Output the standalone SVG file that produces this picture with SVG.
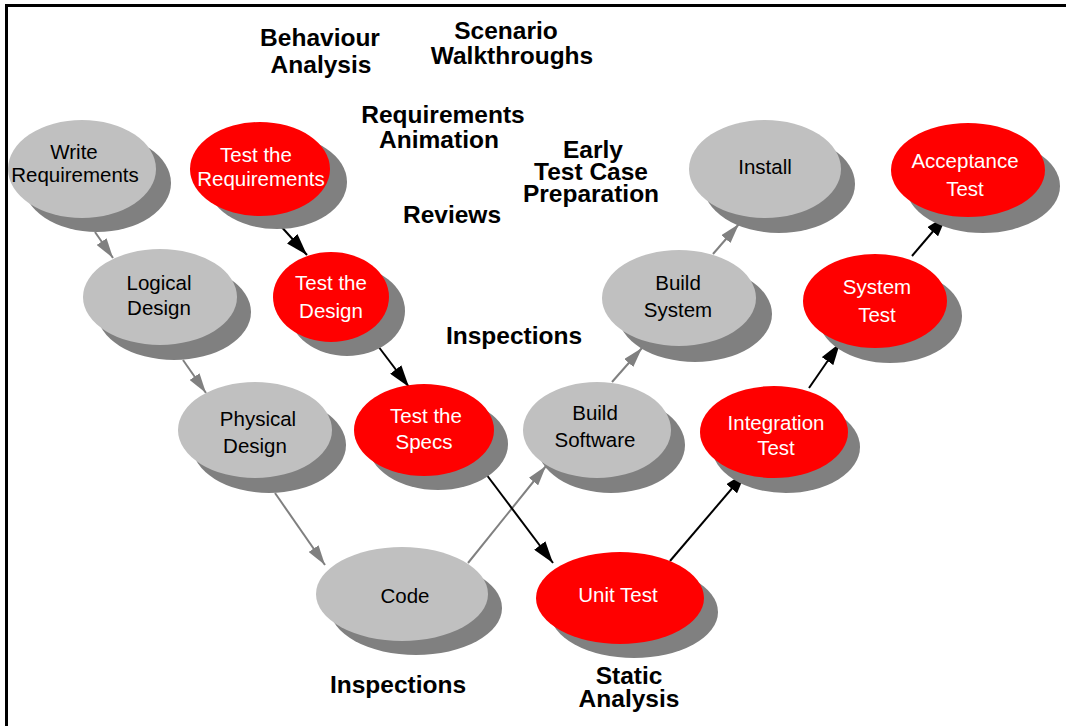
<svg xmlns="http://www.w3.org/2000/svg" width="1066" height="726" viewBox="0 0 1066 726">
  <style>
    .shadow { fill: #808080; }
    .grey { fill: #c0c0c0; }
    .red { fill: #ff0000; }
    .nt { font-family: "Liberation Sans", Arial, sans-serif; font-size: 20.5px; text-anchor: middle; }
    .nt-dark { fill: #000000; }
    .nt-light { fill: #ffffff; }
    .lbl { font-family: "Liberation Sans", Arial, sans-serif; font-size: 24.5px; font-weight: bold; text-anchor: middle; fill: #000000; }
    .flow-grey { stroke: #808080; stroke-width: 2; fill: none; marker-end: url(#head-grey); }
    .flow-black { stroke: #000000; stroke-width: 2; fill: none; marker-end: url(#head-black); }
  </style>
  <defs>
    <marker id="head-grey" markerUnits="userSpaceOnUse" markerWidth="20" markerHeight="12" refX="20" refY="6" orient="auto">
      <path d="M0,0 L20,6 L0,12 z" fill="#808080"/>
    </marker>
    <marker id="head-black" markerUnits="userSpaceOnUse" markerWidth="22" markerHeight="14" refX="22" refY="7" orient="auto">
      <path d="M0,0 L22,7 L0,14 z" fill="#000000"/>
    </marker>
  </defs>

  <rect x="0" y="0" width="1066" height="726" fill="#ffffff"/>

  <!-- frame: top and left rules -->
  <g id="frame">
    <line x1="5" y1="5.5" x2="1066" y2="5.5" stroke="#000" stroke-width="3"/>
    <line x1="6.5" y1="4" x2="6.5" y2="726" stroke="#000" stroke-width="3"/>
  </g>

  <!-- connectors -->
  <g id="connectors">
    <line class="flow-grey" x1="95" y1="232" x2="113" y2="258"/>
    <line class="flow-grey" x1="183" y1="360" x2="206" y2="393"/>
    <line class="flow-grey" x1="275" y1="493" x2="325" y2="565"/>
    <line class="flow-grey" x1="468" y1="563" x2="546" y2="466"/>
    <line class="flow-grey" x1="612" y1="382" x2="642" y2="348"/>
    <line class="flow-grey" x1="713" y1="254" x2="739" y2="224"/>

    <line class="flow-black" x1="278" y1="223" x2="307" y2="255"/>
    <line class="flow-black" x1="378" y1="346" x2="409" y2="387"/>
    <line class="flow-black" x1="483" y1="470" x2="553" y2="563"/>
    <line class="flow-black" x1="670" y1="561" x2="746" y2="472"/>
    <line class="flow-black" x1="809" y1="388" x2="840" y2="343"/>
    <line class="flow-black" x1="912" y1="256" x2="947" y2="215"/>
  </g>

  <!-- development activities (grey) -->
  <g id="write-requirements">
    <ellipse class="shadow" cx="97" cy="183" rx="74" ry="49"/>
    <ellipse class="grey" cx="82" cy="169" rx="74" ry="49"/>
    <text class="nt nt-dark" x="74" y="159">Write</text>
    <text class="nt nt-dark" x="75" y="182">Requirements</text>
  </g>
  <g id="logical-design">
    <ellipse class="shadow" cx="174" cy="312" rx="77" ry="48"/>
    <ellipse class="grey" cx="160" cy="297" rx="77" ry="48"/>
    <text class="nt nt-dark" x="159" y="290">Logical</text>
    <text class="nt nt-dark" x="159" y="315">Design</text>
  </g>
  <g id="physical-design">
    <ellipse class="shadow" cx="269" cy="445" rx="77" ry="48"/>
    <ellipse class="grey" cx="255" cy="430" rx="77" ry="48"/>
    <text class="nt nt-dark" x="258" y="426">Physical</text>
    <text class="nt nt-dark" x="255" y="453">Design</text>
  </g>
  <g id="code">
    <ellipse class="shadow" cx="416" cy="608" rx="86" ry="47"/>
    <ellipse class="grey" cx="402" cy="594" rx="86" ry="47"/>
    <text class="nt nt-dark" x="405" y="603">Code</text>
  </g>
  <g id="build-software">
    <ellipse class="shadow" cx="611" cy="445" rx="74" ry="48"/>
    <ellipse class="grey" cx="597" cy="430" rx="74" ry="48"/>
    <text class="nt nt-dark" x="595" y="420">Build</text>
    <text class="nt nt-dark" x="595" y="447">Software</text>
  </g>
  <g id="build-system">
    <ellipse class="shadow" cx="695" cy="314" rx="77" ry="48"/>
    <ellipse class="grey" cx="679" cy="298" rx="77" ry="48"/>
    <text class="nt nt-dark" x="678" y="290">Build</text>
    <text class="nt nt-dark" x="678" y="317">System</text>
  </g>
  <g id="install">
    <ellipse class="shadow" cx="779" cy="184" rx="76" ry="49"/>
    <ellipse class="grey" cx="765" cy="169" rx="76" ry="49"/>
    <text class="nt nt-dark" x="765" y="174">Install</text>
  </g>

  <!-- test activities (red) -->
  <g id="test-requirements">
    <ellipse class="shadow" cx="277" cy="182" rx="70" ry="47"/>
    <ellipse class="red" cx="260" cy="169" rx="70" ry="47"/>
    <text class="nt nt-light" x="256" y="162">Test the</text>
    <text class="nt nt-light" x="261" y="186">Requirements</text>
  </g>
  <g id="test-design">
    <ellipse class="shadow" cx="347" cy="311" rx="58" ry="45"/>
    <ellipse class="red" cx="331" cy="297" rx="58" ry="45"/>
    <text class="nt nt-light" x="331" y="290">Test the</text>
    <text class="nt nt-light" x="331" y="318">Design</text>
  </g>
  <g id="test-specs">
    <ellipse class="shadow" cx="438" cy="444" rx="70" ry="46"/>
    <ellipse class="red" cx="424" cy="430" rx="70" ry="46"/>
    <text class="nt nt-light" x="426" y="423">Test the</text>
    <text class="nt nt-light" x="424" y="449">Specs</text>
  </g>
  <g id="unit-test">
    <ellipse class="shadow" cx="634" cy="612" rx="84" ry="46"/>
    <ellipse class="red" cx="620" cy="598" rx="84" ry="46"/>
    <text class="nt nt-light" x="618" y="602">Unit Test</text>
  </g>
  <g id="integration-test">
    <ellipse class="shadow" cx="786" cy="447" rx="74" ry="46"/>
    <ellipse class="red" cx="774" cy="432" rx="74" ry="46"/>
    <text class="nt nt-light" x="776" y="430">Integration</text>
    <text class="nt nt-light" x="776" y="455">Test</text>
  </g>
  <g id="system-test">
    <ellipse class="shadow" cx="890" cy="316" rx="72" ry="47"/>
    <ellipse class="red" cx="875" cy="301" rx="72" ry="47"/>
    <text class="nt nt-light" x="877" y="294">System</text>
    <text class="nt nt-light" x="877" y="322">Test</text>
  </g>
  <g id="acceptance-test">
    <ellipse class="shadow" cx="983" cy="186" rx="77" ry="47"/>
    <ellipse class="red" cx="968" cy="170" rx="77" ry="47"/>
    <text class="nt nt-light" x="965" y="168">Acceptance</text>
    <text class="nt nt-light" x="965" y="196">Test</text>
  </g>

  <!-- verification techniques -->
  <g id="techniques">
    <text class="lbl" x="320" y="46">Behaviour</text>
    <text class="lbl" x="321" y="73">Analysis</text>
    <text class="lbl" x="506" y="39">Scenario</text>
    <text class="lbl" x="512" y="64">Walkthroughs</text>
    <text class="lbl" x="443" y="123">Requirements</text>
    <text class="lbl" x="439" y="148">Animation</text>
    <text class="lbl" x="593" y="158">Early</text>
    <text class="lbl" x="591" y="180">Test Case</text>
    <text class="lbl" x="591" y="202">Preparation</text>
    <text class="lbl" x="452" y="223">Reviews</text>
    <text class="lbl" x="514" y="344">Inspections</text>
    <text class="lbl" x="398" y="693">Inspections</text>
    <text class="lbl" x="629" y="684">Static</text>
    <text class="lbl" x="629" y="707">Analysis</text>
  </g>
</svg>
